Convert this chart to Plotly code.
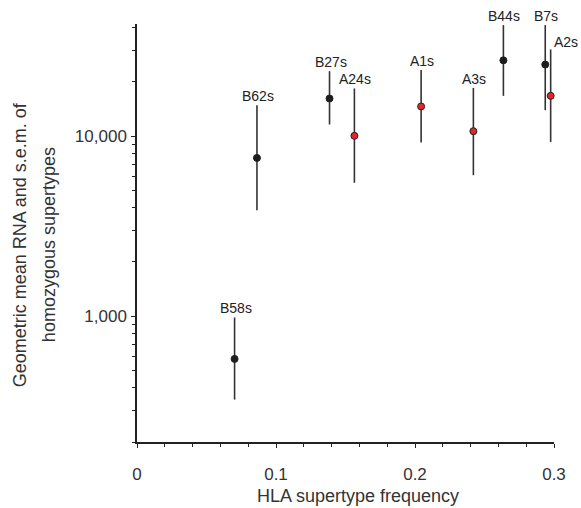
import plotly.graph_objects as go
import numpy as np

# Data
supertypes = ["B58s", "B62s", "B27s", "A24s", "A1s", "A3s", "B44s", "B7s", "A2s"]
frequency = [0.0702, 0.0863, 0.1385, 0.1564, 0.2044, 0.2420, 0.2636, 0.2937, 0.2976]
geo_mean = [579, 7570, 16180, 10040, 14620, 10660, 26370, 25000, 16740]
upper = [984, 14870, 22960, 18410, 23270, 18540, 41400, 41400, 30310]
lower = [344, 3880, 11610, 5510, 9230, 6070, 16740, 13940, 9290]
locus = ["B", "B", "B", "A", "A", "A", "B", "B", "A"]

y_ticks = [1000, 10000]
y_ticktext = ["1,000", "10,000"]
y_minor = [200, 300, 400, 500, 600, 700, 800, 900,
           2000, 3000, 4000, 5000, 6000, 7000, 8000, 9000,
           20000, 30000, 40000]

FONT = "Liberation Sans, Arial, sans-serif"
colors = {"A": "#e3242b", "B": "#1c1c1c"}

fig = go.Figure()
for loc in ["B", "A"]:
    idx = [i for i, l in enumerate(locus) if l == loc]
    fig.add_trace(go.Scatter(
        x=[frequency[i] for i in idx],
        y=[geo_mean[i] for i in idx],
        mode="markers",
        marker=dict(size=7, color=colors[loc], line=dict(color="#222", width=1)),
        error_y=dict(
            type="data", symmetric=False,
            array=[upper[i] - geo_mean[i] for i in idx],
            arrayminus=[geo_mean[i] - lower[i] for i in idx],
            width=0, thickness=1.6, color="#333",
        ),
        showlegend=False,
        cliponaxis=False,
        hoverinfo="skip",
    ))

annotations = []
special = {"A2s": dict(xanchor="left", xshift=1, yshift=-3)}
for name, xv, top in zip(supertypes, frequency, upper):
    opts = dict(xanchor="center", xshift=1, yshift=-1)
    opts.update(special.get(name, {}))
    annotations.append(dict(
        x=xv, y=np.log10(top), xref="x", yref="y", text=name, showarrow=False,
        yanchor="bottom", font=dict(family=FONT, size=14, color="#222"), **opts,
    ))

# Axis titles
annotations.append(dict(
    x=0.530, y=-0.128, xref="paper", yref="paper", text="HLA supertype frequency",
    showarrow=False, xanchor="center", yanchor="middle",
    font=dict(family=FONT, size=18, color="#333"),
))
annotations.append(dict(
    x=-0.2800, y=0.471, xref="paper", yref="paper",
    text="Geometric mean RNA and s.e.m. of", textangle=-90,
    showarrow=False, xanchor="center", yanchor="middle",
    font=dict(family=FONT, size=18, color="#333"),
))
annotations.append(dict(
    x=-0.2110, y=0.471, xref="paper", yref="paper",
    text="homozygous supertypes", textangle=-90,
    showarrow=False, xanchor="center", yanchor="middle",
    font=dict(family=FONT, size=18, color="#333"),
))

fig.update_layout(
    width=581, height=508,
    margin=dict(l=137, r=27, t=24, b=66),
    paper_bgcolor="white", plot_bgcolor="white",
    annotations=annotations,
    xaxis=dict(
        range=[0, 0.3], tickmode="array", tickvals=[0, 0.1, 0.2, 0.3],
        ticktext=["0", "0.1", "0.2", "0.3"],
        showline=True, linecolor="#222", linewidth=1.5,
        ticks="outside", ticklen=4, tickwidth=1.2, tickcolor="#222",
        showgrid=False, zeroline=False, ticklabelstandoff=12,
        tickfont=dict(family=FONT, size=17, color="#333"),
        minor=dict(dtick=0.02, tick0=0, ticks="outside", ticklen=3, tickwidth=1, tickcolor="#222"),
    ),
    yaxis=dict(
        type="log", range=[np.log10(200), 4.623],
        tickmode="array", tickvals=y_ticks, ticktext=y_ticktext,
        showline=True, linecolor="#222", linewidth=1.5,
        ticks="outside", ticklen=4, tickwidth=1.2, tickcolor="#222",
        showgrid=False, zeroline=False, ticklabelstandoff=1,
        tickfont=dict(family=FONT, size=17, color="#333"),
        minor=dict(tickmode="array", tickvals=y_minor, ticks="outside", ticklen=3, tickwidth=1, tickcolor="#222"),
    ),
)

fig.write_html(
    "out.html",
    config={"displayModeBar": False},
    post_script="document.body.style.margin='0';document.body.style.overflow='hidden';",
)
